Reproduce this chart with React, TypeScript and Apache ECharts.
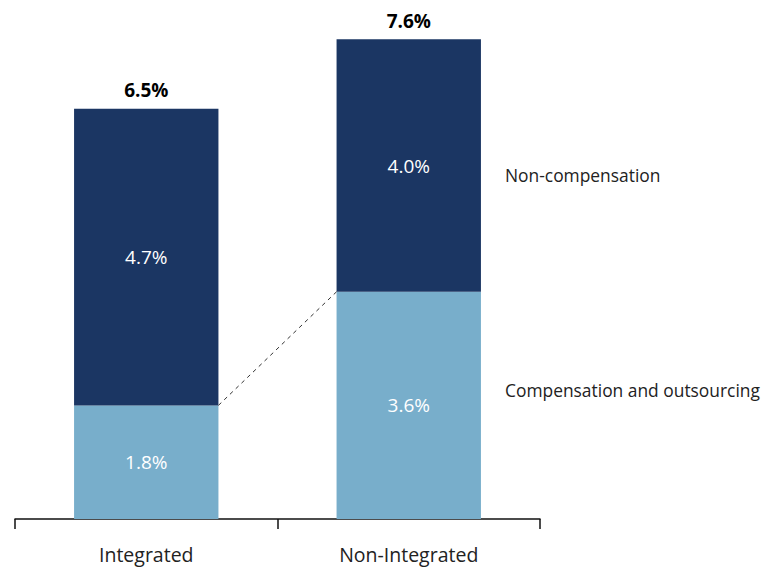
import React, { useEffect, useRef } from "react";
import * as echarts from "echarts";

const categories = ["Integrated", "Non-Integrated"];
const compensation = [1.8, 3.6];
const nonCompensation = [4.7, 4.0];
const totals = [6.5, 7.6];
const seriesNames = ["Compensation and outsourcing", "Non-compensation"];

const DARK = "#1b3663";
const LIGHT = "#78aecb";
const FONT = "'Open Sans', 'Noto Sans', sans-serif";

export default function App() {
  const ref = useRef<HTMLDivElement>(null);
  useEffect(() => {
    if (!ref.current) return;
    const chart = echarts.init(ref.current, null, { renderer: "svg" });
    const barRatio = 0.55;
    chart.setOption({
      animation: false,
      textStyle: { fontFamily: FONT },
      grid: { left: 15, right: 227, top: 14, bottom: 48, containLabel: false },
      xAxis: {
        type: "category",
        data: categories,
        axisLine: { lineStyle: { color: "#111", width: 1.5 } },
        axisTick: { show: true, length: 10, lineStyle: { color: "#111", width: 1.5 } },
        axisLabel: { color: "#222", fontSize: 19.5, margin: 25, fontFamily: FONT },
      },
      yAxis: {
        type: "value",
        min: 0,
        max: 8,
        show: false,
        splitLine: { show: false },
      },
      series: [
        {
          name: seriesNames[0],
          type: "bar",
          stack: "total",
          barWidth: "55%",
          data: compensation,
          itemStyle: { color: LIGHT },
          label: {
            show: true,
            position: "inside",
            color: "#fff",
            fontSize: 19,
            fontFamily: FONT,
            formatter: (p: any) => p.value.toFixed(1) + "%",
          },
        },
        {
          name: seriesNames[1],
          type: "bar",
          stack: "total",
          barWidth: "55%",
          data: nonCompensation,
          itemStyle: { color: DARK },
          label: {
            show: true,
            position: "inside",
            color: "#fff",
            fontSize: 19,
            fontFamily: FONT,
            formatter: (p: any) => p.value.toFixed(1) + "%",
          },
        },
        {
          name: "Total",
          type: "bar",
          stack: "total",
          barWidth: "55%",
          data: totals.map(() => 0),
          itemStyle: { color: "transparent" },
          label: {
            show: true,
            position: "top",
            distance: 9,
            color: "#000",
            fontSize: 19,
            fontWeight: "bold",
            fontFamily: FONT,
            formatter: (p: any) => totals[p.dataIndex].toFixed(1) + "%",
          },
        },
        {
          type: "custom",
          data: [[0, compensation[0], 1, compensation[1]]],
          silent: true,
          z: 10,
          renderItem: (params: any, api: any) => {
            const p0 = api.coord([api.value(0), api.value(1)]);
            const p1 = api.coord([api.value(2), api.value(3)]);
            const band = api.size([1, 0])[0];
            const half = (band * barRatio) / 2;
            return {
              type: "line",
              shape: { x1: p0[0] + half, y1: p0[1], x2: p1[0] - half, y2: p1[1] },
              style: { stroke: "#333", lineWidth: 1, lineDash: [4, 4] },
            };
          },
        },
      ],
      graphic: [
        {
          type: "text",
          x: 505,
          y: 175,
          style: { text: seriesNames[1], fontSize: 17.4, fill: "#222", fontFamily: FONT, verticalAlign: "middle" },
        },
        {
          type: "text",
          x: 505,
          y: 390,
          style: { text: seriesNames[0], fontSize: 17.4, fill: "#222", fontFamily: FONT, verticalAlign: "middle" },
        },
      ],
    });
    return () => chart.dispose();
  }, []);
  return <div ref={ref} style={{ width: 767, height: 567, position: "absolute", left: 0, top: 0 }} />;
}
